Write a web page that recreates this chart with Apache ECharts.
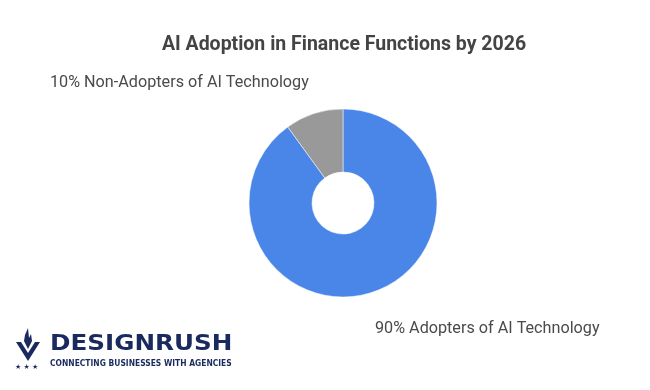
<!DOCTYPE html>
<html><head><meta charset="utf-8">
<script src="https://cdn.jsdelivr.net/npm/echarts@6/dist/echarts.min.js"></script>
<style>html,body{margin:0;padding:0;background:#fff}#c{width:650px;height:390px}</style>
</head><body><div id="c"></div>
<script>
var titleText = 'AI Adoption in Finance Functions by 2026';
var categories = ['Adopters of AI Technology', 'Non-Adopters of AI Technology'];
var values = [90, 10];
var colors = ['#4a86e8', '#999999'];
var labelPos = [[375, 329, 'left'], [50, 83, 'left']];

var chart = echarts.init(document.getElementById('c'), null, {renderer: 'canvas'});
var data = categories.map(function (c, i) {
  return {name: c, value: values[i], itemStyle: {color: colors[i]}};
});
chart.setOption({
  animation: false,
  backgroundColor: '#ffffff',
  title: {
    text: titleText, left: 339, top: 30, textAlign: 'center',
    textStyle: {fontFamily: 'Roboto', fontWeight: 'bold', fontSize: 19.5, color: '#444444'}
  },
  series: [{
    type: 'pie',
    center: [343, 203],
    radius: [31, 94],
    startAngle: 90,
    clockwise: true,
    data: data,
    itemStyle: {borderColor: '#ffffff', borderWidth: 0.5},
    label: {
      show: true,
      formatter: function (p) { return p.value + '% ' + p.name; },
      fontFamily: 'Roboto', fontSize: 16.2, color: '#4a4a4a'
    },
    labelLine: {show: false},
    labelLayout: function (p) {
      var lp = labelPos[p.dataIndex];
      return {x: lp[0], y: lp[1], align: lp[2], verticalAlign: 'middle'};
    }
  }],
  graphic: [
    {type: 'text', x: 50, y: 333, scaleX: 1.12, style: {text: 'DESIGNRUSH', font: 'bold 22px "DejaVu Sans"', fill: '#1b2a5e', verticalAlign: 'top'}},
    {type: 'text', x: 50, y: 359, scaleX: 0.84, style: {text: 'CONNECTING BUSINESSES WITH AGENCIES', font: 'bold 9px "DejaVu Sans"', fill: '#1b2a5e', verticalAlign: 'top'}},
    {type: 'polygon', shape: {points: [[16,342],[28,361],[40,342],[35,342],[28,353],[21,342]]}, style: {fill: '#1b2a5e'}},
    {type: 'polygon', shape: {points: [[24,341],[28,349],[32,341],[31,334],[29,338],[28,328],[25,335]]}, style: {fill: '#1b2a5e'}},
    {type: 'text', x: 15, y: 364, style: {text: '★ ★ ★', font: '7px "DejaVu Sans"', fill: '#1b2a5e', verticalAlign: 'top'}}
  ]
});
</script></body></html>
